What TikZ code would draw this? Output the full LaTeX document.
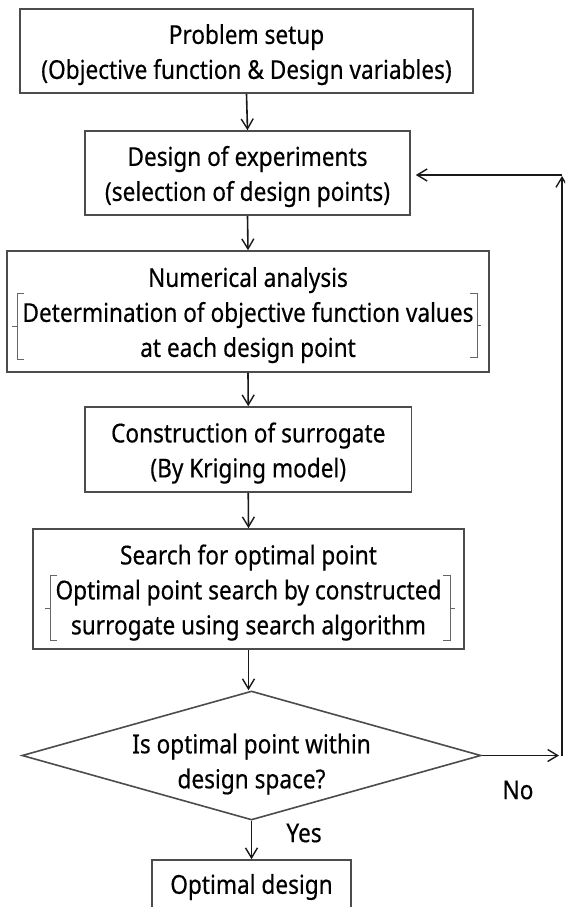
\documentclass[tikz,border=0pt]{standalone}
\usepackage{fontspec}
\setmainfont[FakeStretch=0.87,FakeBold=0.4]{Noto Sans}
\usetikzlibrary{arrows.meta,shapes.geometric}
\newcommand{\tpstrut}{\rule{0pt}{27pt}}
\begin{document}
\begin{tikzpicture}[x=1pt,y=1pt,
  every node/.style={font=\fontsize{26}{35}\selectfont, text=black},
  box/.style={draw=black!70, line width=1.6pt, inner sep=0pt, align=center},
  arr/.style={draw=black!90, line width=1.6pt, -{Straight Barb[length=10pt,width=12pt,line width=1.4pt]}},
  brk/.style={draw=black!60, line width=1pt}
]
\clip (0,0) rectangle (565,-907);
\fill[white] (0,0) rectangle (565,-907);

\node[box, minimum width=453, minimum height=84] (b1) at (246.5,-51)
  {\tpstrut Problem setup\\(Objective function \& Design variables)};
\node[box, minimum width=325, minimum height=84] (b2) at (247.5,-173)
  {\tpstrut Design of experiments\\(selection of design points)};
\node[box, minimum width=482, minimum height=121] (b3) at (248,-311.5)
  {\tpstrut Numerical analysis\\Determination of objective function values\\at each design point};
\node[box, minimum width=326.5, minimum height=85] (b4) at (248.25,-449.5)
  {\tpstrut Construction of surrogate\\(By Kriging model)};
\node[box, minimum width=431, minimum height=120] (b5) at (248.5,-589)
  {\tpstrut Search for optimal point\\Optimal point search by constructed\\surrogate using search algorithm};
\node[diamond, draw=black!70, line width=1.6pt, inner sep=0pt, minimum width=459, minimum height=129, align=center] (dia) at (251.5,-755.5) {};
\node[align=center] (dtxt) at (251.5,-764) {Is optimal point within\\design space?};
\node[box, minimum width=199, minimum height=54] (b6) at (251.5,-887) {Optimal design};

% brackets
\draw[brk] (24,-293) -- (17,-293) -- (17,-359) -- (24,-359);
\draw[brk] (17,-326) -- (12,-326);
\draw[brk] (470,-293) -- (477,-293) -- (477,-357) -- (470,-357);
\draw[brk] (477,-325) -- (481,-325);
\draw[brk] (57,-575) -- (50,-575) -- (50,-640) -- (57,-640);
\draw[brk] (50,-608) -- (45,-608);
\draw[brk] (443,-575) -- (450,-575) -- (450,-640) -- (443,-640);
\draw[brk] (450,-608) -- (455,-608);

% main flow
\draw[arr] (b1.south) -- (b2.north);
\draw[arr] (b2.south) -- (b3.north);
\draw[arr] (b3.south) -- (b4.north);
\draw[arr] (b4.south) -- (b5.north);
\draw[arr] (b5.south) -- (b5.south |- dia.north);
\draw[arr] (dia.south) -- (b6.north);

% feedback loop
\coordinate (r1) at (562,-755.5);
\coordinate (r2) at (562,-175);
\draw[arr, shorten >=3pt] (dia.east) -- (r1);
\draw[arr, shorten >=1pt] (r1) -- (r2);
\draw[arr, shorten >=5pt] (r2) -- (b2.east |- r2);

\node (no) at (518,-790) {No};
\node (yes) at (304,-833) {Yes};
\end{tikzpicture}
\end{document}
